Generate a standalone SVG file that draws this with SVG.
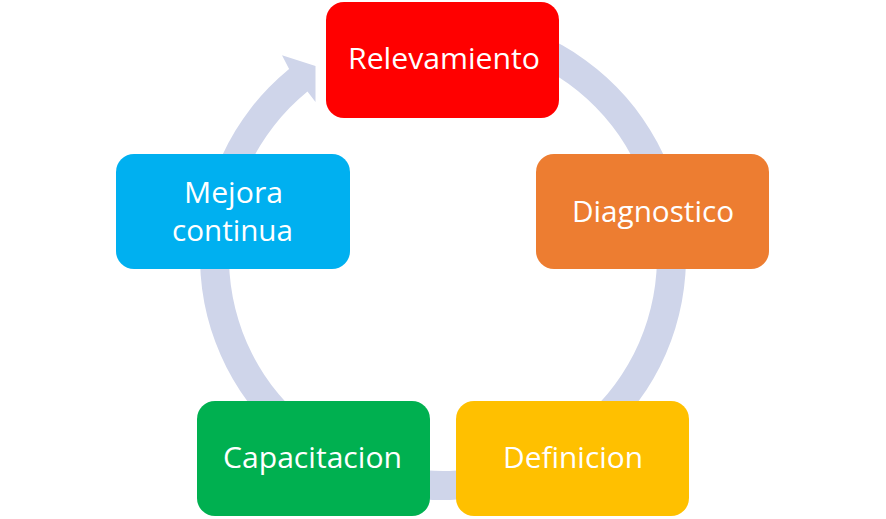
<svg xmlns="http://www.w3.org/2000/svg" width="886" height="519" viewBox="0 0 886 519">
  <style>
    .box { stroke: none; }
    .lbl { font-family: "Open Sans", "Noto Sans", "Liberation Sans", sans-serif; font-size: 30px; fill: #ffffff; text-anchor: middle; }
    .ring { fill: #CFD5EA; stroke: none; }
  </style>
  <rect width="886" height="519" fill="#ffffff"/>
  <g id="connectors">
    <path class="ring" d="M 485.2 17.7 A 243 243 0 1 1 289.09 68.96 L 282 55.3 L 315.5 66 L 315.5 102 L 307.46 91.4 A 214 214 0 1 0 480.2 46.3 Z"/>
  </g>
  <g id="relevamiento">
    <rect class="box" x="326" y="2" width="233" height="116" rx="18" ry="18" fill="#FF0000"/>
    <text class="lbl" x="444" y="69" textLength="192" lengthAdjust="spacingAndGlyphs">Relevamiento</text>
  </g>
  <g id="diagnostico">
    <rect class="box" x="536" y="154" width="233" height="115" rx="18" ry="18" fill="#ED7D31"/>
    <text class="lbl" x="653" y="222" textLength="162" lengthAdjust="spacingAndGlyphs">Diagnostico</text>
  </g>
  <g id="definicion">
    <rect class="box" x="456" y="401" width="233" height="115" rx="18" ry="18" fill="#FFC000"/>
    <text class="lbl" x="573" y="468" textLength="140" lengthAdjust="spacingAndGlyphs">Definicion</text>
  </g>
  <g id="capacitacion">
    <rect class="box" x="197" y="401" width="233" height="115" rx="18" ry="18" fill="#00B050"/>
    <text class="lbl" x="312.5" y="468" textLength="179" lengthAdjust="spacingAndGlyphs">Capacitacion</text>
  </g>
  <g id="mejora-continua">
    <rect class="box" x="116" y="154" width="234" height="115" rx="18" ry="18" fill="#00B0F0"/>
    <text class="lbl" x="233.5" y="203" textLength="99" lengthAdjust="spacingAndGlyphs">Mejora</text>
    <text class="lbl" x="232.5" y="241" textLength="121" lengthAdjust="spacingAndGlyphs">continua</text>
  </g>
</svg>
